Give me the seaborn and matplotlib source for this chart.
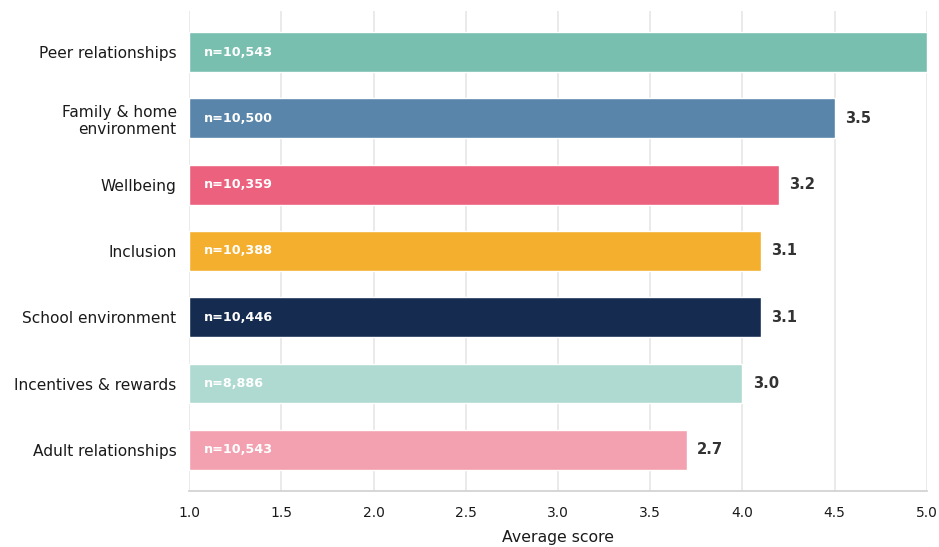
import matplotlib
matplotlib.use("Agg")
import matplotlib.pyplot as plt
import seaborn as sns
import pandas as pd

categories = ["Peer relationships", "Family & home\nenvironment", "Wellbeing", "Inclusion",
              "School environment", "Incentives & rewards", "Adult relationships"]
scores = [4.0, 3.5, 3.2, 3.1, 3.1, 3.0, 2.7]
n_labels = ["n=10,543", "n=10,500", "n=10,359", "n=10,388", "n=10,446", "n=8,886", "n=10,543"]
colors = ["#79BFAF", "#5985AA", "#EC617E", "#F5AF2F", "#152C50", "#AFDAD1", "#F3A1B0"]
xticks = [1.0, 1.5, 2.0, 2.5, 3.0, 3.5, 4.0, 4.5, 5.0]
scale_min = 1.0
scale_max = 5.0

df = pd.DataFrame({"category": categories, "score": scores})

sns.set_style("white")
plt.rcParams["font.family"] = ["DejaVu Sans"]

fig = plt.figure(figsize=(9.39, 5.47), dpi=100)
ax = fig.add_axes([0.2013, 0.1024, 0.7859, 0.8776])

sns.barplot(data=df, x="score", y="category", hue="category", palette=colors,
            saturation=1, legend=False, orient="h", width=0.6, left=scale_min,
            edgecolor="white", linewidth=1, ax=ax, zorder=3)

ax.set_xlim(scale_min, scale_max)
ax.set_ylim(6.62, -0.62)
ax.set_xticks(xticks)
ax.set_xticklabels([f"{v:.1f}" for v in xticks])
ax.xaxis.grid(True, color="#e6e6e6", linewidth=1.2, zorder=0)
ax.yaxis.grid(False)
ax.set_axisbelow(True)

for s in ["top", "right", "left"]:
    ax.spines[s].set_visible(False)
ax.spines["bottom"].set_color("#d0d0d0")
ax.spines["bottom"].set_linewidth(1.2)

ax.tick_params(axis="y", length=4, width=1, color="#333333", labelsize=11.1, labelcolor="#1a1a1a", pad=5)
ax.tick_params(axis="x", length=4, width=1, color="#333333", labelsize=10, labelcolor="#1a1a1a", pad=7)
ax.set_ylabel("")
ax.set_xlabel("Average score", fontsize=11.3, color="#1a1a1a", labelpad=7)

for i, (v, n) in enumerate(zip(scores, n_labels)):
    ax.text(scale_min + 0.08, i, n, va="center", ha="left", color="white",
            fontsize=9.2, fontweight="bold", zorder=5)
    if scale_min + v < scale_max:
        ax.text(scale_min + v + 0.055, i, f"{v:.1f}", va="center", ha="left", color="#333333",
                fontsize=10.6, fontweight="bold", zorder=5)

fig.savefig("out.png", dpi=100)
